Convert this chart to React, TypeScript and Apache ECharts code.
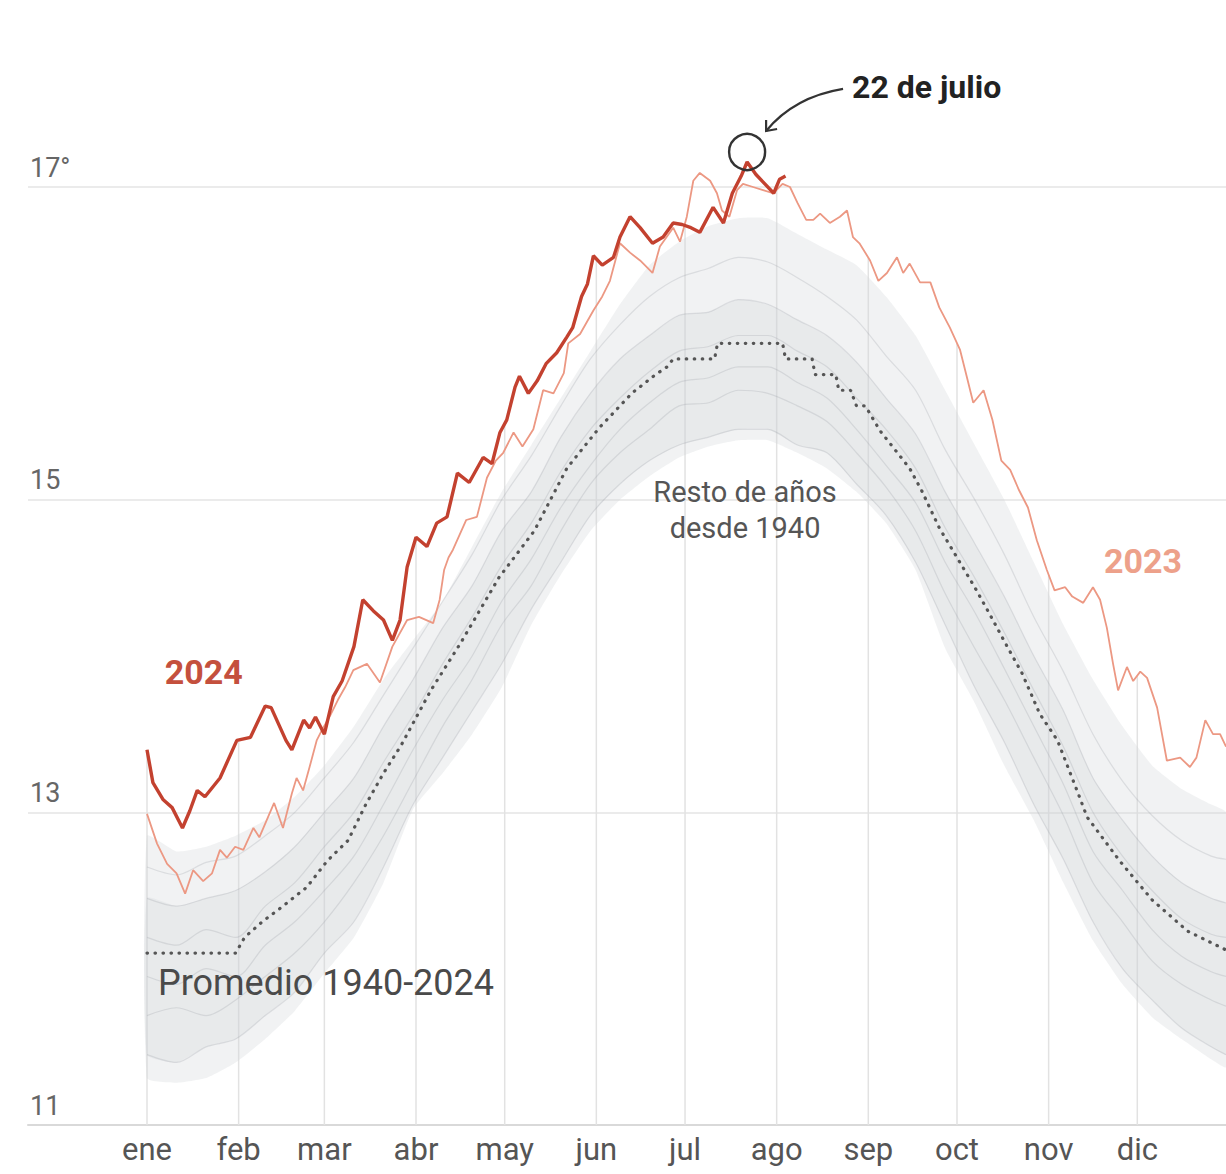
import React, { useEffect, useRef } from "react";
import * as echarts from "echarts";

// ---------- data ----------
const MONTHS = ["ene", "feb", "mar", "abr", "may", "jun", "jul", "ago", "sep", "oct", "nov", "dic"];
const MONTH_STARTS = [0, 31, 60, 91, 121, 152, 182, 213, 244, 274, 305, 335];
const Y_MIN = 11;
const Y_MAX = 17;
const Y_STEP = 2;

const BAND_DAYS = [0, 10, 20, 30, 40, 50, 60, 70, 80, 90, 100, 110, 120, 130, 140, 150, 160, 170, 180, 190, 200, 210, 220, 230, 240, 250, 260, 270, 280, 290, 300, 310, 320, 330, 340, 350, 360, 365];
const BAND_LOW = [11.3, 11.27, 11.3, 11.4, 11.55, 11.73, 11.97, 12.2, 12.55, 13.02, 13.25, 13.5, 13.8, 14.2, 14.52, 14.8, 15.0, 15.15, 15.27, 15.34, 15.38, 15.38, 15.3, 15.2, 15.05, 14.85, 14.55, 14.05, 13.7, 13.3, 12.95, 12.55, 12.18, 11.9, 11.69, 11.55, 11.42, 11.37];
const BAND_HIGH = [12.85, 12.75, 12.78, 12.85, 12.95, 13.1, 13.3, 13.55, 13.85, 14.1, 14.35, 14.7, 15.05, 15.35, 15.65, 15.95, 16.25, 16.5, 16.65, 16.75, 16.8, 16.8, 16.7, 16.6, 16.5, 16.3, 16.05, 15.7, 15.35, 15.0, 14.6, 14.2, 13.85, 13.55, 13.3, 13.15, 13.05, 13.0];

const GREY_1 = [11.45, 11.4, 11.5, 11.55, 11.7, 11.85, 12.1, 12.3, 12.65, 13.05, 13.35, 13.65, 13.95, 14.3, 14.6, 14.9, 15.1, 15.25, 15.35, 15.4, 15.45, 15.45, 15.35, 15.3, 15.1, 14.9, 14.6, 14.2, 13.8, 13.45, 13.05, 12.7, 12.3, 12.0, 11.8, 11.62, 11.5, 11.45];
const GREY_2 = [11.7, 11.75, 11.7, 11.8, 11.95, 12.1, 12.3, 12.55, 12.85, 13.2, 13.55, 13.85, 14.2, 14.45, 14.8, 15.1, 15.3, 15.45, 15.6, 15.62, 15.7, 15.68, 15.6, 15.5, 15.3, 15.08, 14.8, 14.4, 14.05, 13.72, 13.35, 12.98, 12.55, 12.3, 12.05, 11.9, 11.8, 11.76];
const GREY_3 = [11.95, 11.9, 12.0, 11.95, 12.15, 12.3, 12.5, 12.72, 13.05, 13.4, 13.72, 14.0, 14.35, 14.62, 14.95, 15.22, 15.45, 15.62, 15.75, 15.78, 15.85, 15.85, 15.75, 15.65, 15.45, 15.22, 14.98, 14.6, 14.28, 13.92, 13.55, 13.18, 12.75, 12.5, 12.25, 12.08, 11.98, 11.95];
const GREY_4 = [12.2, 12.15, 12.25, 12.2, 12.4, 12.55, 12.78, 13.0, 13.32, 13.62, 13.95, 14.25, 14.58, 14.85, 15.18, 15.45, 15.65, 15.82, 15.95, 15.98, 16.05, 16.05, 15.95, 15.85, 15.65, 15.45, 15.2, 14.82, 14.5, 14.15, 13.78, 13.42, 13.0, 12.72, 12.5, 12.32, 12.22, 12.2];
const GREY_5 = [12.45, 12.4, 12.45, 12.5, 12.62, 12.78, 13.0, 13.22, 13.55, 13.85, 14.18, 14.45, 14.8, 15.05, 15.4, 15.68, 15.9, 16.05, 16.18, 16.2, 16.28, 16.25, 16.15, 16.05, 15.88, 15.65, 15.42, 15.05, 14.72, 14.38, 14.0, 13.65, 13.22, 12.95, 12.72, 12.55, 12.45, 12.42];
const GREY_6 = [12.65, 12.6, 12.68, 12.72, 12.85, 13.0, 13.22, 13.45, 13.75, 14.05, 14.35, 14.65, 15.0, 15.28, 15.6, 15.9, 16.12, 16.3, 16.42, 16.48, 16.55, 16.52, 16.42, 16.3, 16.15, 15.92, 15.7, 15.32, 15.0, 14.65, 14.25, 13.9, 13.5, 13.2, 12.98, 12.82, 12.72, 12.7];

const AVERAGE = [[0, 12.1], [30, 12.1], [33, 12.2], [39, 12.3], [46, 12.4], [54, 12.52], [61, 12.69], [68, 12.82], [74, 13.05], [80, 13.25], [86, 13.43], [96, 13.78], [106, 14.08], [119, 14.5], [131, 14.8], [142, 15.2], [153, 15.46], [164, 15.68], [172, 15.8], [176, 15.85], [178, 15.9], [192, 15.9], [193, 16.0], [215, 16.0], [216, 15.9], [225, 15.9], [226, 15.8], [233, 15.8], [234, 15.7], [238, 15.7], [240, 15.6], [243, 15.6], [248, 15.44], [253, 15.32], [258, 15.2], [262, 15.06], [268, 14.82], [280, 14.44], [285, 14.27], [291, 14.06], [296, 13.89], [302, 13.63], [308, 13.46], [315, 13.12], [318, 12.97], [329, 12.69], [340, 12.44], [352, 12.24], [365, 12.12]];

const YEAR_2023 = [[0, 12.99], [3.4, 12.8], [6.8, 12.67], [10, 12.61], [12.9, 12.48], [15.6, 12.63], [19, 12.56], [22, 12.61], [24.7, 12.76], [27, 12.71], [29.8, 12.78], [32.6, 12.76], [36, 12.9], [38, 12.84], [40.5, 12.95], [43, 13.06], [46, 12.9], [49, 13.12], [50.6, 13.22], [52.8, 13.14], [55, 13.29], [57.4, 13.46], [59, 13.52], [62, 13.62], [64.6, 13.72], [67, 13.8], [69.8, 13.91], [74.4, 13.95], [78.8, 13.83], [83, 14.06], [88, 14.23], [92, 14.25], [96.8, 14.21], [99, 14.36], [100.5, 14.55], [102, 14.63], [103.5, 14.68], [108, 14.87], [111.6, 14.89], [115, 15.14], [118, 15.25], [120.5, 15.3], [124, 15.43], [127, 15.34], [130.7, 15.45], [134, 15.7], [137.5, 15.68], [141, 15.81], [142.5, 16.0], [146.5, 16.06], [151, 16.21], [154, 16.3], [156.6, 16.4], [160, 16.64], [163.4, 16.58], [166.8, 16.53], [171, 16.45], [173.5, 16.62], [178, 16.74], [180.3, 16.65], [182.6, 16.81], [184.8, 17.04], [187, 17.09], [190.5, 17.04], [192.8, 16.96], [194.5, 16.85], [197, 16.81], [199.6, 16.98], [201.6, 17.02], [205, 17.0], [208.4, 16.98], [211.8, 16.96], [215, 17.02], [217.5, 17.0], [220, 16.9], [223, 16.79], [225.4, 16.79], [227.7, 16.83], [231, 16.77], [234.4, 16.81], [236.8, 16.85], [238.8, 16.68], [241, 16.64], [244.6, 16.53], [247.4, 16.4], [250.3, 16.45], [253.7, 16.55], [255.8, 16.45], [258, 16.51], [261.5, 16.39], [265, 16.39], [268, 16.23], [271.6, 16.1], [275, 15.96], [277.4, 15.78], [279.5, 15.62], [283, 15.7], [286, 15.51], [289, 15.25], [292, 15.19], [295, 15.06], [298, 14.95], [301, 14.74], [304.4, 14.55], [307, 14.42], [310.6, 14.44], [313, 14.38], [316.7, 14.34], [320, 14.44], [322.4, 14.36], [324.7, 14.18], [326.8, 13.95], [328.5, 13.78], [331.5, 13.93], [333.6, 13.84], [336, 13.9], [338.3, 13.86], [341.7, 13.67], [345, 13.33], [349.5, 13.35], [352.8, 13.29], [355, 13.35], [358, 13.59], [360.6, 13.5], [363, 13.5], [365, 13.42]];

const YEAR_2024 = [[0, 13.4], [2, 13.19], [5.5, 13.08], [8.5, 13.03], [12, 12.9], [14.5, 13.01], [17, 13.14], [19.6, 13.1], [24.7, 13.22], [30.4, 13.46], [35, 13.48], [40, 13.68], [42, 13.67], [47, 13.46], [49, 13.4], [53, 13.59], [55, 13.54], [57, 13.61], [60, 13.5], [63, 13.74], [66, 13.84], [70, 14.06], [73, 14.36], [76.5, 14.29], [80, 14.23], [83, 14.1], [85.6, 14.23], [88, 14.57], [91, 14.76], [94.7, 14.7], [98, 14.85], [101.5, 14.89], [105, 15.17], [109, 15.11], [113.7, 15.27], [116.7, 15.23], [119.4, 15.43], [121.7, 15.51], [124.5, 15.72], [126, 15.79], [129, 15.68], [132, 15.76], [135, 15.87], [138.6, 15.94], [142, 16.04], [144, 16.1], [147, 16.3], [149, 16.38], [151, 16.56], [154, 16.5], [157.8, 16.55], [160, 16.68], [163.4, 16.81], [166.8, 16.74], [171, 16.64], [174.6, 16.68], [178, 16.77], [181, 16.76], [184, 16.74], [187, 16.71], [191.5, 16.87], [195, 16.77], [198, 16.96], [201, 17.07], [203, 17.16], [206, 17.08], [209, 17.02], [212, 16.96], [214, 17.05], [216, 17.07]];

const PEAK = [203, 17.16];

// ---------- annotation placement (data coordinates) ----------
const LABEL_2024_AT = [6, 13.9];
const LABEL_2023_AT = [323.7, 14.61];
const LABEL_AVG_AT = [3.7, 11.91];
const LABEL_REST_AT = [202.3, 15.05];
const LABEL_REST2_AT = [202.3, 14.82];
const LABEL_PEAK_AT = [238.5, 17.64];

const FONT = "Roboto, 'Noto Sans', 'DejaVu Sans', sans-serif";

function interp(pts: number[][], d: number): number | null {
  if (d < pts[0][0] || d > pts[pts.length - 1][0]) return null;
  for (let i = 1; i < pts.length; i++) {
    if (pts[i][0] >= d) {
      const [x0, y0] = pts[i - 1];
      const [x1, y1] = pts[i];
      return y0 + ((y1 - y0) * (d - x0)) / (x1 - x0 || 1);
    }
  }
  return pts[0][1];
}

export default function App() {
  const ref = useRef<HTMLDivElement>(null);

  useEffect(() => {
    document.body.style.margin = "0";
    const chart = echarts.init(ref.current!, null, { renderer: "svg" });
    const toPairs = (days: number[], vals: number[]) => days.map((d, i) => [d, vals[i]]);
    const highPairs = toPairs(BAND_DAYS, BAND_HIGH);
    const topAt = (d: number) =>
      Math.max(
        ...[interp(YEAR_2024, d), interp(YEAR_2023, d), interp(highPairs, d)].filter(
          (v) => v != null
        ) as number[]
      );
    const greys = [GREY_1, GREY_2, GREY_3, GREY_4, GREY_5, GREY_6];

    const bandSeries = (lo: number[], hi: number[], fill: string, z: number) => ({
      type: "custom",
      z,
      silent: true,
      data: [[BAND_DAYS[0], lo[0]]],
      renderItem: (_p: any, api: any) => {
        const top = BAND_DAYS.map((d, i) => api.coord([d, hi[i]]));
        const bot = BAND_DAYS.map((d, i) => api.coord([d, lo[i]])).reverse();
        return {
          type: "polygon",
          shape: { points: top.concat(bot), smooth: 0.15 },
          style: { fill },
        };
      },
    });

    const option: any = {
      animation: false,
      textStyle: { fontFamily: FONT },
      grid: { left: 28, right: 0, top: 187, bottom: 49 },
      xAxis: {
        type: "value",
        min: -40.255,
        max: 365,
        axisLine: { show: true, onZero: false, lineStyle: { color: "#d9d9d9", width: 2 } },
        axisTick: { show: false },
        splitLine: { show: false },
        axisLabel: {
          customValues: MONTH_STARTS,
          formatter: (v: number) => {
            const i = MONTH_STARTS.indexOf(Math.round(v));
            return i >= 0 ? MONTHS[i] : "";
          },
          fontSize: 31,
          color: "#555",
          margin: 9,
          fontFamily: FONT,
        },
      },
      yAxis: {
        type: "value",
        min: Y_MIN,
        max: Y_MAX,
        interval: Y_STEP,
        axisLine: { show: false, onZero: false },
        axisTick: { show: false },
        splitLine: { lineStyle: { color: "#e4e4e4", width: 1.5 } },
        axisLabel: {
          inside: true,
          margin: 2,
          verticalAlign: "bottom",
          padding: [0, 0, 6, 0],
          fontSize: 27,
          color: "#666",
          fontFamily: FONT,
          formatter: (v: number) => (v === 17 ? "17°" : String(v)),
        },
      },
      series: [
        {
          type: "custom",
          name: "month lines",
          z: 1,
          silent: true,
          data: MONTH_STARTS.map((d) => [d, topAt(d)]),
          renderItem: (_p: any, api: any) => {
            const d = api.value(0);
            const t = api.value(1);
            const a = api.coord([d, Y_MIN]);
            const b = api.coord([d, t]);
            return {
              type: "line",
              shape: { x1: a[0], y1: a[1], x2: b[0], y2: b[1] },
              style: { stroke: "#e2e2e2", lineWidth: 1.5 },
            };
          },
        },
        bandSeries(BAND_LOW, BAND_HIGH, "rgba(208,212,216,0.3)", 2),
        bandSeries(GREY_1, GREY_5, "rgba(200,204,208,0.22)", 2),
        ...greys.map((g) => ({
          type: "line",
          data: toPairs(BAND_DAYS, g),
          symbol: "none",
          smooth: 0.3,
          silent: true,
          clip: false,
          z: 3,
          lineStyle: { color: "rgba(150,156,162,0.25)", width: 1.2 },
        })),
        {
          type: "line",
          name: "Promedio 1940-2024",
          data: AVERAGE,
          symbol: "none",
          clip: false,
          z: 4,
          lineStyle: { color: "#555", width: 3.2, type: [0.5, 7.5], cap: "round" },
        },
        {
          type: "line",
          name: "2023",
          data: YEAR_2023,
          symbol: "none",
          clip: false,
          z: 5,
          lineStyle: { color: "#ec9883", width: 1.8 },
        },
        {
          type: "line",
          name: "2024",
          data: YEAR_2024,
          symbol: "none",
          clip: false,
          z: 6,
          lineStyle: { color: "#c3412f", width: 3.4 },
        },
      ],
    };
    chart.setOption(option);

    const px = (p: number[]) => chart.convertToPixel({ gridIndex: 0 }, p) as number[];
    const [pkx, pky] = px(PEAK);
    const cx = pkx;
    const cy = pky - 10;
    const [tx, ty] = px(LABEL_PEAK_AT);
    const sx = tx - 9;
    const sy = ty + 2;
    const ex = cx + 19;
    const ey = cy - 21;
    const ctrlX = cx + 47;
    const ctrlY = cy - 55;

    const text = (p: number[], str: string, style: any) => {
      const [x, y] = px(p);
      return {
        type: "text",
        x,
        y,
        z: 100,
        style: { text: str, fontFamily: FONT, verticalAlign: "middle", align: "left", ...style },
      };
    };

    chart.setOption({
      graphic: [
        text(LABEL_2024_AT, "2024", { fontSize: 34, fontWeight: "bold", fill: "#c4503d" }),
        text(LABEL_2023_AT, "2023", { fontSize: 34, fontWeight: "bold", fill: "#eda18a" }),
        text(LABEL_AVG_AT, "Promedio 1940-2024", { fontSize: 36, fill: "#4a4a4a" }),
        text(LABEL_REST_AT, "Resto de años", { fontSize: 29, fill: "#555", align: "center" }),
        text(LABEL_REST2_AT, "desde 1940", { fontSize: 29, fill: "#555", align: "center" }),
        text(LABEL_PEAK_AT, "22 de julio", { fontSize: 32, fontWeight: "bold", fill: "#222" }),
        {
          type: "circle",
          z: 100,
          shape: { cx, cy, r: 18 },
          style: { fill: "none", stroke: "#333", lineWidth: 2.4 },
        },
        {
          type: "bezierCurve",
          z: 100,
          shape: { x1: sx, y1: sy, x2: ex, y2: ey, cpx1: ctrlX, cpy1: ctrlY },
          style: { fill: "none", stroke: "#333", lineWidth: 2.2 },
        },
        {
          type: "polyline",
          z: 100,
          shape: { points: [[ex + 11, ey - 2], [ex, ey], [ex, ey - 11]] },
          style: { fill: "none", stroke: "#333", lineWidth: 2.2 },
        },
      ],
    });

    return () => chart.dispose();
  }, []);

  return <div ref={ref} style={{ width: 1226, height: 1174 }} />;
}
